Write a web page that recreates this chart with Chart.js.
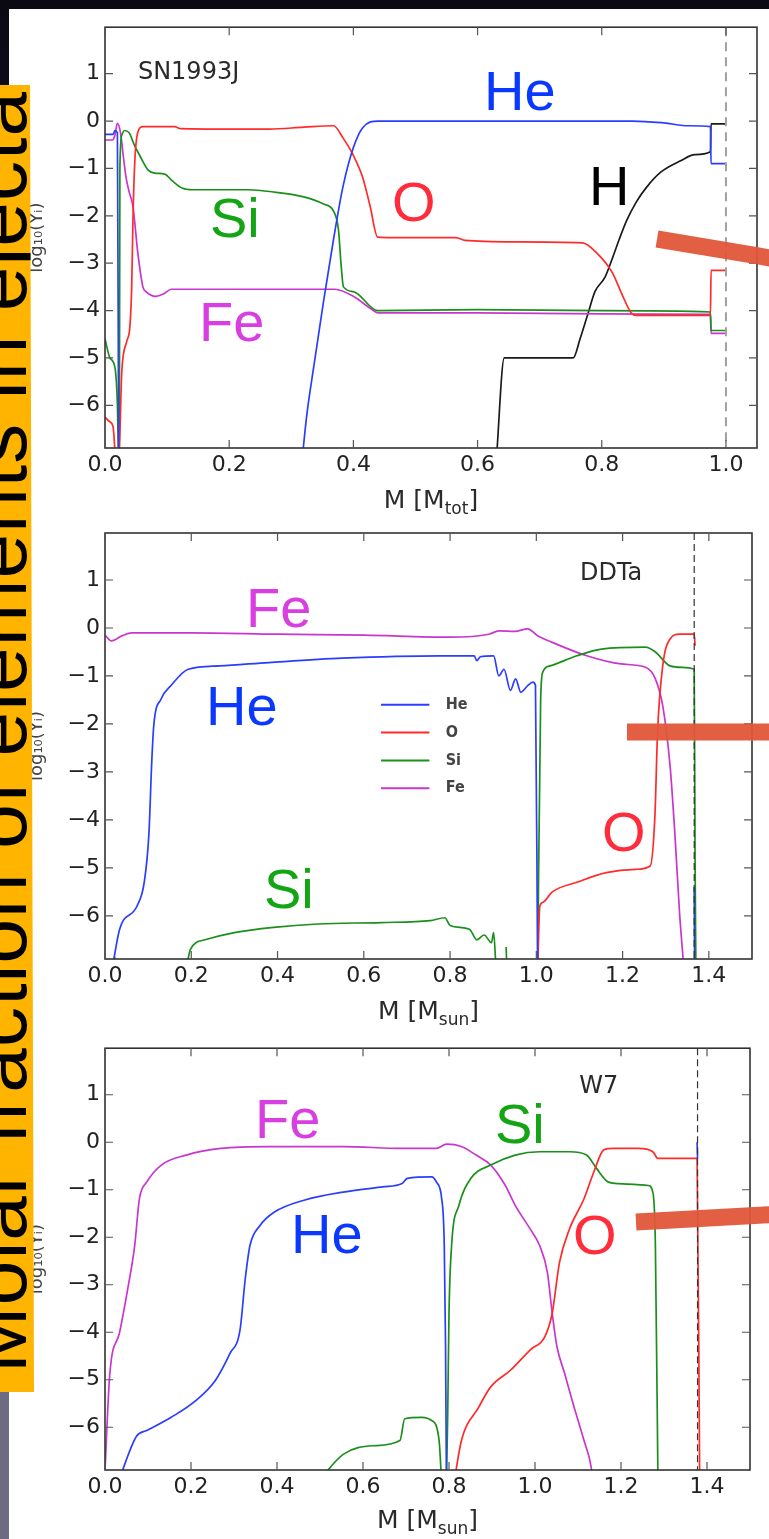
<!DOCTYPE html>
<html>
<head>
<meta charset="utf-8">
<script src="https://cdn.jsdelivr.net/npm/chart.js@4.4.0/dist/chart.umd.min.js"></script>
<style>
  html, body { margin: 0; padding: 0; }
  body {
    width: 769px; height: 1539px; overflow: hidden; position: relative;
    background: linear-gradient(to bottom, #0a0914 0px, #0d0c19 120px, #6d6b83 1400px, #6d6b83 1539px);
  }
  #sheet { position: absolute; left: 9px; top: 9px; width: 760px; height: 1530px; background: #fff; }
  canvas.panel { position: absolute; left: 0; filter: blur(0.7px); }
  #overlay { position: absolute; left: 0; top: 0; }
</style>
</head>
<body>
<div id="sheet">
  <canvas id="snChart" class="panel" width="760" height="505" style="top:0px"></canvas>
  <canvas id="ddtChart" class="panel" width="760" height="516" style="top:505px"></canvas>
  <canvas id="w7Chart" class="panel" width="760" height="509" style="top:1021px"></canvas>
</div>

<svg id="overlay" width="769" height="1539" viewBox="0 0 769 1539">
  <defs>
    <clipPath id="band"><polygon points="-20,85 30,85 34,1392 -20,1392"/></clipPath>
  </defs>
  <polygon points="-20,85 30,85 34,1392 -20,1392" fill="#ffb500"/>
  <g clip-path="url(#band)">
    <text transform="translate(26,1373) rotate(-90)" font-family="Liberation Sans, Arial, sans-serif"
          font-size="80" fill="#000" textLength="1281" lengthAdjust="spacing">Molar fraction of elements in ejecta</text>
  </g>

  <!-- slide arrows -->
  <g stroke="#e2563a" stroke-width="17" stroke-opacity="0.95">
    <line x1="657" y1="239" x2="800" y2="263"/>
    <line x1="627" y1="732" x2="800" y2="732"/>
    <line x1="636" y1="1222" x2="800" y2="1213"/>
  </g>

  <!-- element call-outs -->
  <g font-family="Liberation Sans, Arial, sans-serif" font-size="56">
    <text x="484" y="110" fill="#0a38ff">He</text>
    <text x="392" y="221" fill="#ff2c3c">O</text>
    <text x="589" y="205" fill="#000">H</text>
    <text x="210" y="237" fill="#14a514">Si</text>
    <text x="199" y="341" fill="#d93ee0">Fe</text>

    <text x="246" y="627" fill="#d93ee0">Fe</text>
    <text x="206" y="725" fill="#0a38ff">He</text>
    <text x="264" y="908" fill="#14a514">Si</text>
    <text x="602" y="851" fill="#ff2c3c">O</text>

    <text x="255" y="1138" fill="#d93ee0">Fe</text>
    <text x="495" y="1143" fill="#14a514">Si</text>
    <text x="291" y="1253" fill="#0a38ff">He</text>
    <text x="573" y="1254" fill="#ff2c3c">O</text>
  </g>
</svg>

<script>
// ---- values: [mass coordinate, log10 Y] ----
// SN1993J
const sn93He = [[0, -0.28], [0.013, -0.28], [0.016, -0.2], [0.02, -0.25], [0.022, -7.2], [0.1, null],
  [0.317, -7.2], [0.325, -6.2], [0.336, -5.2], [0.352, -3.8], [0.368, -2.5], [0.383, -1.4], [0.4, -0.56],
  [0.415, -0.14], [0.44, 0.0], [0.7, 0.0], [0.85, 0.0], [0.9, -0.04], [0.94, -0.1], [0.975, -0.12],
  [0.976, -0.9], [1.0, -0.9]];
const sn93O = [[0, -6.25], [0.008, -6.35], [0.013, -6.45], [0.018, -7.2], [0.022, -7.2], [0.027, -5.3],
  [0.035, -4.65], [0.04, -4.35], [0.043, -3.5], [0.045, -2.1], [0.048, -0.85], [0.053, -0.23], [0.061, -0.12],
  [0.112, -0.12], [0.122, -0.16], [0.2, -0.17], [0.265, -0.17], [0.32, -0.13], [0.368, -0.1], [0.383, -0.35],
  [0.399, -0.7], [0.415, -1.19], [0.427, -1.8], [0.439, -2.45], [0.462, -2.46], [0.565, -2.46], [0.58, -2.52],
  [0.659, -2.55], [0.769, -2.57], [0.793, -2.8], [0.817, -3.2], [0.832, -3.64], [0.848, -4.06], [0.856, -4.1],
  [0.975, -4.1], [0.976, -3.15], [1.0, -3.15]];
const sn93Si = [[0, -4.6], [0.008, -5.0], [0.016, -5.2], [0.02, -6.0], [0.022, -7.2], [0.023, -7.2],
  [0.024, -1.0], [0.027, -0.3], [0.031, -0.2], [0.039, -0.25], [0.047, -0.5], [0.058, -0.78], [0.069, -1.03],
  [0.08, -1.1], [0.096, -1.12], [0.109, -1.27], [0.125, -1.42], [0.141, -1.45], [0.23, -1.45], [0.273, -1.5],
  [0.32, -1.6], [0.352, -1.75], [0.368, -1.9], [0.376, -2.3], [0.38, -3.0], [0.384, -3.5], [0.4, -3.6],
  [0.439, -4.0], [0.6, -3.98], [0.8, -4.0], [0.975, -4.03], [0.976, -4.42], [1.0, -4.42]];
const sn93Fe = [[0, -0.4], [0.012, -0.4], [0.016, -0.3], [0.02, -0.05], [0.025, -0.25], [0.03, -0.8],
  [0.034, -1.2], [0.039, -1.5], [0.045, -1.8], [0.053, -2.8], [0.061, -3.5], [0.066, -3.6], [0.082, -3.7],
  [0.094, -3.65], [0.107, -3.55], [0.2, -3.55], [0.37, -3.55], [0.4, -3.7], [0.43, -3.98], [0.44, -4.05],
  [0.6, -4.05], [0.8, -4.07], [0.975, -4.08], [0.976, -4.48], [1.0, -4.48]];
const sn93H = [[0.63, -7.2], [0.643, -5.0], [0.754, -5.0], [0.765, -4.6], [0.777, -4.1], [0.789, -3.6],
  [0.805, -3.3], [0.817, -2.9], [0.828, -2.5], [0.84, -2.1], [0.856, -1.7], [0.872, -1.4], [0.895, -1.08],
  [0.927, -0.84], [0.95, -0.71], [0.975, -0.65], [0.976, -0.06], [1.0, -0.06]];

// DDTa
const ddtHe = [[0.015, -7.2], [0.034, -6.28], [0.074, -5.8], [0.091, -5.3], [0.102, -4.26], [0.108, -2.87],
  [0.113, -2.04], [0.13, -1.48], [0.153, -1.2], [0.193, -0.86], [0.266, -0.79], [0.38, -0.72], [0.55, -0.63],
  [0.777, -0.58], [0.856, -0.58], [0.862, -0.68], [0.87, -0.6], [0.901, -0.58], [0.913, -1.0], [0.925, -0.86],
  [0.94, -1.3], [0.952, -1.06], [0.964, -1.34], [0.98, -1.2], [0.992, -1.13], [0.998, -1.2], [1.003, -7.2],
  [1.2, null], [1.366, -5.4], [1.367, -7.2]];
const ddtO = [[1.003, -7.2], [1.008, -5.8], [1.015, -5.72], [1.037, -5.5], [1.094, -5.3], [1.162, -5.1],
  [1.23, -5.03], [1.264, -4.96], [1.275, -3.9], [1.281, -2.18], [1.293, -0.79], [1.31, -0.23], [1.332, -0.13],
  [1.366, -0.13], [1.368, -0.37]];
const ddtSi = [[0.022, -6.85], [0.028, -7.2], [0.1, null],
  [0.187, -7.2], [0.198, -6.7], [0.232, -6.5], [0.3, -6.35], [0.391, -6.24], [0.493, -6.17], [0.64, -6.14],
  [0.754, -6.1], [0.788, -6.04], [0.8, -6.2], [0.845, -6.28], [0.862, -6.5], [0.879, -6.4], [0.896, -6.56],
  [0.901, -6.35], [0.907, -7.2], [0.92, null], [0.93, -6.65], [0.932, -7.2], [0.95, null],
  [1.003, -7.2], [1.01, -1.5], [1.015, -0.92], [1.032, -0.79], [1.094, -0.58], [1.151, -0.44], [1.253, -0.4],
  [1.276, -0.5], [1.31, -0.79], [1.338, -0.82], [1.366, -0.86], [1.368, -4.8], [1.37, -7.2]];
const ddtFe = [[0, -0.15], [0.015, -0.27], [0.04, -0.16], [0.062, -0.1], [0.2, -0.1], [0.4, -0.13],
  [0.6, -0.15], [0.8, -0.19], [0.89, -0.13], [0.913, -0.06], [0.95, -0.07], [0.98, -0.02], [1.003, -0.16],
  [1.037, -0.3], [1.117, -0.58], [1.196, -0.75], [1.253, -0.82], [1.276, -1.06], [1.293, -1.62], [1.31, -2.87],
  [1.321, -4.26], [1.332, -5.93], [1.343, -7.2]];

// W7
const w7He = [[0.029, -7.2], [0.074, -6.18], [0.097, -6.07], [0.154, -5.79], [0.211, -5.44], [0.257, -5.01],
  [0.291, -4.44], [0.314, -3.95], [0.326, -2.89], [0.337, -2.18], [0.36, -1.76], [0.394, -1.47], [0.463, -1.22],
  [0.554, -1.05], [0.646, -0.94], [0.691, -0.87], [0.703, -0.76], [0.76, -0.73], [0.771, -0.84], [0.783, -1.19],
  [0.789, -2.18], [0.792, -4.3], [0.794, -7.2], [1.0, null], [1.377, 0.0], [1.378, -0.34]];
const w7O = [[0.811, -7.2], [0.829, -6.28], [0.869, -5.58], [0.897, -5.15], [0.943, -4.8], [0.989, -4.37],
  [1.023, -4.09], [1.04, -3.6], [1.057, -2.53], [1.08, -1.83], [1.114, -1.19], [1.137, -0.62], [1.16, -0.16],
  [1.183, -0.13], [1.24, -0.13], [1.274, -0.2], [1.286, -0.34], [1.331, -0.34], [1.377, -0.34], [1.383, -7.2]];
const w7Si = [[0.491, -7.2], [0.554, -6.57], [0.623, -6.39], [0.686, -6.28], [0.697, -5.82], [0.737, -5.79],
  [0.76, -5.86], [0.777, -6.28], [0.783, -7.2], [0.788, null],
  [0.794, -7.2], [0.797, -5.72], [0.8, -3.6], [0.806, -2.18], [0.823, -1.33], [0.851, -0.76], [0.897, -0.48],
  [0.954, -0.27], [1.011, -0.2], [1.08, -0.2], [1.12, -0.27], [1.143, -0.55], [1.171, -0.84], [1.194, -0.87],
  [1.263, -0.91], [1.274, -1.05], [1.28, -2.18], [1.286, -7.2]];
const w7Fe = [[0, -6.9], [0.011, -4.9], [0.034, -4.0], [0.054, -3.03], [0.069, -2.18], [0.08, -1.19],
  [0.097, -0.84], [0.131, -0.48], [0.189, -0.27], [0.269, -0.13], [0.383, -0.09], [0.554, -0.09], [0.691, -0.13],
  [0.771, -0.13], [0.794, -0.04], [0.829, -0.09], [0.863, -0.27], [0.897, -0.48], [0.931, -0.91], [0.954, -1.33],
  [0.989, -1.83], [1.011, -2.18], [1.029, -2.75], [1.04, -3.6], [1.051, -4.3], [1.069, -4.87], [1.091, -5.58],
  [1.114, -6.28], [1.131, -6.86], [1.135, -7.2]];

// axis ticks
const xTicksSN = [0, 0.2, 0.4, 0.6, 0.8, 1.0];
const xTicksIa = [0, 0.2, 0.4, 0.6, 0.8, 1.0, 1.2, 1.4];
const yTicks = [-6, -5, -4, -3, -2, -1, 0, 1];

const COLORS = { He: '#2b3dff', O: '#ff2a2a', Si: '#1b8f1b', Fe: '#c936cf', H: '#1a1a1a' };
const TICK_FONT = { family: 'DejaVu Sans', size: 22 };

// matplotlib-style frame, inward ticks, model name, x title with subscript, legend
const mplDecor = {
    id: 'mplDecor',
    afterDatasetsDraw(chart, args, o) {
        const { ctx, chartArea: a, scales: { x, y } } = chart;
        ctx.save();
        const dx = x.getPixelForValue(o.dashX);
        ctx.strokeStyle = o.dashColor;
        ctx.lineWidth = o.dashWidth;
        ctx.setLineDash(o.dash);
        ctx.beginPath();
        ctx.moveTo(dx, a.top);
        ctx.lineTo(dx, a.bottom);
        ctx.stroke();
        ctx.setLineDash([]);

        ctx.strokeStyle = '#333';
        ctx.lineWidth = 1.6;
        ctx.strokeRect(a.left, a.top, a.right - a.left, a.bottom - a.top);

        ctx.strokeStyle = '#555';
        ctx.lineWidth = 1.2;
        ctx.beginPath();
        x.ticks.forEach(t => {
            const px = x.getPixelForValue(t.value);
            ctx.moveTo(px, a.bottom); ctx.lineTo(px, a.bottom - 8);
            ctx.moveTo(px, a.top); ctx.lineTo(px, a.top + 8);
        });
        y.ticks.forEach(t => {
            const py = y.getPixelForValue(t.value);
            ctx.moveTo(a.left, py); ctx.lineTo(a.left + 8, py);
            ctx.moveTo(a.right, py); ctx.lineTo(a.right - 8, py);
        });
        ctx.stroke();
        ctx.restore();
    },
    afterDraw(chart, args, o) {
        const { ctx, chartArea: a, scales: { x, y } } = chart;
        ctx.save();
        ctx.fillStyle = '#2a2a2a';
        ctx.textBaseline = 'alphabetic';
        ctx.textAlign = 'left';
        ctx.font = '24px "DejaVu Sans"';
        ctx.fillText(o.name, x.getPixelForValue(o.nameAt[0]), y.getPixelForValue(o.nameAt[1]));

        // x title: M [M_sub]
        const main = 'M [M', close = ']';
        ctx.font = '25px "DejaVu Sans"';
        const w1 = ctx.measureText(main).width, w3 = ctx.measureText(close).width;
        ctx.font = '17px "DejaVu Sans"';
        const w2 = ctx.measureText(o.xSub).width;
        let tx = (a.left + a.right) / 2 - (w1 + w2 + w3) / 2;
        const ty = a.bottom + o.titleOffset;
        ctx.font = '25px "DejaVu Sans"';
        ctx.fillText(main, tx, ty);
        ctx.font = '17px "DejaVu Sans"';
        ctx.fillText(o.xSub, tx + w1, ty + 6);
        ctx.font = '25px "DejaVu Sans"';
        ctx.fillText(close, tx + w1 + w2, ty);

        if (o.legend) {
            const L = o.legend;
            ctx.font = 'bold 16px "DejaVu Sans Condensed"';
            ctx.textBaseline = 'middle';
            chart.data.datasets.forEach((ds, i) => {
                const py = y.getPixelForValue(L.y0 + i * L.dy);
                ctx.strokeStyle = ds.borderColor;
                ctx.lineWidth = 2;
                ctx.beginPath();
                ctx.moveTo(x.getPixelForValue(L.x0), py);
                ctx.lineTo(x.getPixelForValue(L.x1), py);
                ctx.stroke();
                ctx.fillStyle = '#444';
                ctx.fillText(ds.label, x.getPixelForValue(L.tx), py);
            });
        }
        ctx.restore();
    }
};

function makeChart(id, series, o) {
    const ctx = document.getElementById(id).getContext('2d');
    return new Chart(ctx, {
        type: 'line',
        data: {
            datasets: series.map(s => ({
                label: s.label,
                data: s.data.map(p => ({ x: p[0], y: p[1] })),
                borderColor: COLORS[s.label],
                borderWidth: 1.7,
                pointRadius: 0,
                cubicInterpolationMode: 'monotone',
                spanGaps: false
            }))
        },
        options: {
            responsive: false,
            animation: false,
            layout: { padding: { top: o.padTop, right: o.padRight, left: 0, bottom: 0 } },
            plugins: {
                legend: { display: false },
                tooltip: { enabled: false },
                mplDecor: o.decor
            },
            scales: {
                x: {
                    type: 'linear',
                    min: 0,
                    max: o.xMax,
                    grid: { display: false, drawTicks: false },
                    border: { display: false },
                    afterBuildTicks: ax => { ax.ticks = o.xTicks.map(v => ({ value: v })); },
                    afterFit: ax => { ax.height = o.xAxisHeight; },
                    ticks: {
                        callback: v => Number(v).toFixed(1),
                        font: TICK_FONT,
                        color: '#222',
                        padding: 4,
                        maxRotation: 0,
                        autoSkip: false
                    }
                },
                y: {
                    type: 'linear',
                    min: -6.9,
                    max: 1.98,
                    grid: { display: false, drawTicks: false },
                    border: { display: false },
                    afterBuildTicks: ax => { ax.ticks = yTicks.map(v => ({ value: v })); },
                    afterFit: ax => { ax.width = 96; },
                    ticks: {
                        callback: v => v < 0 ? '\u2212' + Math.abs(v) : String(v),
                        font: TICK_FONT,
                        color: '#222',
                        padding: 5
                    },
                    title: {
                        display: true,
                        text: 'log\u2081\u2080(Y\u1D62)',
                        font: { family: 'DejaVu Sans', size: 18 },
                        color: '#444',
                        padding: { top: 18, bottom: 0 }
                    }
                }
            }
        },
        plugins: [mplDecor]
    });
}

makeChart('snChart', [
    { label: 'He', data: sn93He },
    { label: 'O', data: sn93O },
    { label: 'Si', data: sn93Si },
    { label: 'Fe', data: sn93Fe },
    { label: 'H', data: sn93H }
], {
    padTop: 16, padRight: 12, xAxisHeight: 66, xMax: 1.05, xTicks: xTicksSN,
    decor: {
        dashX: 1.0, dashColor: '#a0a0a0', dashWidth: 2, dash: [9, 6],
        name: 'SN1993J', nameAt: [0.053, 0.88], xSub: 'tot', titleOffset: 60
    }
});

makeChart('ddtChart', [
    { label: 'He', data: ddtHe },
    { label: 'O', data: ddtO },
    { label: 'Si', data: ddtSi },
    { label: 'Fe', data: ddtFe }
], {
    padTop: 19, padRight: 17, xAxisHeight: 71, xMax: 1.5, xTicks: xTicksIa,
    decor: {
        dashX: 1.366, dashColor: '#333', dashWidth: 1.2, dash: [7, 4],
        name: 'DDTa', nameAt: [1.101, 0.99], xSub: 'sun', titleOffset: 60,
        legend: { x0: 0.64, x1: 0.752, tx: 0.79, y0: -1.6, dy: -0.58 }
    }
});

makeChart('w7Chart', [
    { label: 'He', data: w7He },
    { label: 'O', data: w7O },
    { label: 'Si', data: w7Si },
    { label: 'Fe', data: w7Fe }
], {
    padTop: 17, padRight: 19, xAxisHeight: 69, xMax: 1.5, xTicks: xTicksIa,
    decor: {
        dashX: 1.378, dashColor: '#333', dashWidth: 1.2, dash: [7, 4],
        name: 'W7', nameAt: [1.103, 1.04], xSub: 'sun', titleOffset: 58
    }
});
</script>
</body>
</html>
